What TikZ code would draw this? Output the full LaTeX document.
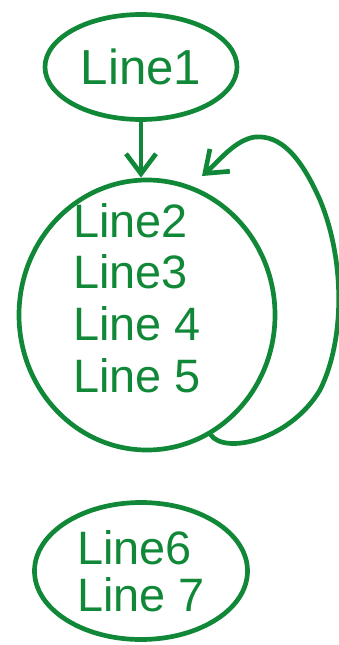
\documentclass[tikz,border=0pt]{standalone}
\usepackage{fontspec}
\setmainfont{Liberation Sans}
\usetikzlibrary{shapes.geometric,arrows.meta,positioning}
\definecolor{penGreen}{RGB}{16,136,56}

\begin{document}
\begin{tikzpicture}[
    x=0.03cm, y=-0.03cm,
    bubble/.style={ellipse, draw=penGreen, line width=4pt, text=penGreen, align=left, inner sep=0pt},
    words/.style={text=penGreen, align=left, inner sep=0pt, font=\fontsize{40}{44}\selectfont},
    line/.style={draw=penGreen, line width=4pt, line cap=round, line join=round, -{Straight Barb[length=6mm,width=9mm]}}
]
    \useasboundingbox (0,0) rectangle (339,645);

    \node [bubble, minimum width=5.76cm, minimum height=3.15cm, font=\fontsize{42}{44}\selectfont] (first) at (141,67) {Line1};
    \node [bubble, minimum width=7.68cm, minimum height=8.1cm] (big) at (147,315) {};
    \node [words] (bigText) at (137,298) {Line2\\Line3\\Line 4\\Line 5};
    \node [bubble, minimum width=6.39cm, minimum height=4.11cm, font=\fontsize{40}{40}\selectfont] (last) at (141,571) {Line6\\Line 7};

    \coordinate (loopTip) at (202,176);

    \path [line] (first.south) -- (first.south |- big.north);
    % loop back round the right side
    \path [line] (big.-62) .. controls (225,455) and (290,440) .. (320,390)
        .. controls (345,340) and (345,260) .. (320,200)
        .. controls (300,155) and (280,135) .. (255,137)
        .. controls (235,140) and (220,160) .. (loopTip);
\end{tikzpicture}
\end{document}
